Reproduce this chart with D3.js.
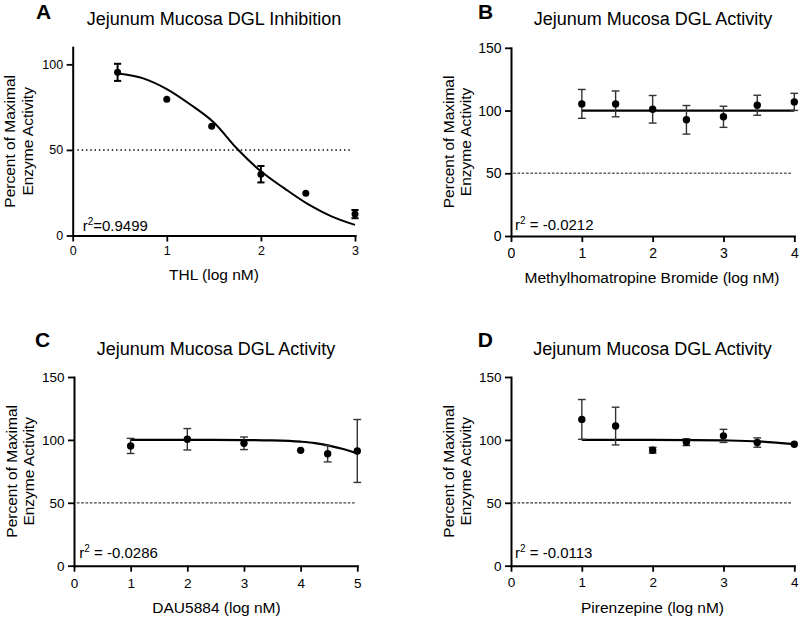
<!DOCTYPE html>
<html><head><meta charset="utf-8">
<script src="https://cdn.jsdelivr.net/npm/d3@7"></script>
<style>body{margin:0;background:#fff} text{font-family:"Liberation Sans",Arial,Helvetica,sans-serif;fill:#000}</style>
</head><body>
<svg id="c" width="800" height="618"></svg>
<script>
// ---- Data ----
const yLabelLines = ["Percent of Maximal", "Enzyme Activity"];
const titles = ["Jejunum Mucosa DGL Inhibition", "Jejunum Mucosa DGL Activity", "Jejunum Mucosa DGL Activity", "Jejunum Mucosa DGL Activity"];
const panelLetters = ["A", "B", "C", "D"];
const xLabels = ["THL (log nM)", "Methylhomatropine Bromide (log nM)", "DAU5884 (log nM)", "Pirenzepine (log nM)"];
const r2Values = ["=0.9499", " = -0.0212", " = -0.0286", " = -0.0113"];
const yTicksA = [0, 50, 100];
const yTicksBCD = [0, 50, 100, 150];
const refValue = 50;

// Panel A: THL
const aX = [0.477, 1, 1.477, 2, 2.477, 3];
const aY = [95.3, 79.6, 63.8, 35.8, 24.7, 12.5];
const aErr = [5, 0, 0, 4.8, 0, 2.4];
const aFitX = [0.477, 0.75, 1, 1.25, 1.5, 1.75, 2, 2.25, 2.5, 2.75, 3];
const aFitY = [94.7, 91.8, 85.5, 76.5, 66, 50.5, 37.5, 27.5, 18.3, 11.2, 6.2];

// Panel B: Methylhomatropine Bromide
const bX = [1, 1.477, 2, 2.477, 3, 3.477, 4];
const bY = [105.3, 105.3, 101, 92.6, 95, 104.2, 106.9];
const bErr = [11.5, 10.3, 11, 11.4, 8.4, 8, 6.8];
const bFitX = [1, 4];
const bFitY = [100, 100];

// Panel C: DAU5884
const cX = [1, 2, 3, 4, 4.477, 5];
const cY = [95.2, 100.5, 97.3, 91.7, 89, 91.2];
const cErr = [6, 8.5, 5, 0, 6.5, 25];
const cFitX = [1, 2, 3, 3.5, 4, 4.25, 4.5, 4.75, 5];
const cFitY = [100, 100, 99.9, 99.6, 98.6, 97.5, 95.5, 92.8, 89.3];

// Panel D: Pirenzepine
const dX = [1, 1.477, 2, 2.477, 3, 3.477, 4];
const dY = [116.3, 111, 91.8, 98.2, 103.2, 97.9, 96.6];
const dErr = [15.8, 15, 2.3, 2.7, 5.2, 3.7, 0];
const dFitX = [1, 2, 2.5, 3, 3.5, 4];
const dFitY = [100, 100, 99.9, 99.6, 98.8, 96.6];

// ---- Layout ----
const panels = [
  {xs:aX, ys:aY, errs:aErr, fx:aFitX, fy:aFitY, xMax:3, yMax:110, yTicks:yTicksA,
   x0:72.7, x1:355, yb:235.5, yt:47.2, tickFont:12.5, xPad:4.5,
   refFrom:0.05, refTo:2.96, refDash:"1.4,2.9", refColor:"#000", refW:1.5,
   errW:2, errColor:"#000", capW:3.6, dotR:3.5, fitW:2,
   titleX:214, titleY:25, letterX:36, letterY:18.5, xLabX:214, xLabY:279.5, labLine1:15.2, r2x:82.7, r2y:231},
  {xs:bX, ys:bY, errs:bErr, fx:bFitX, fy:bFitY, xMax:4, yMax:150, yTicks:yTicksBCD,
   x0:511, x1:794.3, yb:236, yt:47.8, tickFont:14, xPad:6.5,
   refFrom:0.03, refTo:3.96, refDash:"2.7,1.6", refColor:"#666", refW:1.3,
   errW:1.4, errColor:"#333", capW:3.9, dotR:3.7, fitW:2.2,
   titleX:653, titleY:25, letterX:478, letterY:18.5, xLabX:652, xLabY:282.5, labLine1:453.5, r2x:515, r2y:229.5},
  {xs:cX, ys:cY, errs:cErr, fx:cFitX, fy:cFitY, xMax:5, yMax:150, yTicks:yTicksBCD,
   x0:74, x1:357.3, yb:565.7, yt:377, tickFont:13.5, xPad:6.5,
   refFrom:0.05, refTo:4.98, refDash:"2.7,1.6", refColor:"#444", refW:1.2,
   errW:1.4, errColor:"#333", capW:3.9, dotR:3.7, fitW:2.2,
   titleX:216, titleY:355, letterX:35, letterY:347, xLabX:216.5, xLabY:613.3, labLine1:16.5, r2x:79.3, r2y:557.7},
  {xs:dX, ys:dY, errs:dErr, fx:dFitX, fy:dFitY, xMax:4, yMax:150, yTicks:yTicksBCD,
   x0:511, x1:794.3, yb:565.7, yt:377, tickFont:13.5, xPad:5.5,
   refFrom:0.03, refTo:3.96, refDash:"2.7,1.6", refColor:"#333", refW:1.2,
   errW:1.4, errColor:"#333", capW:3.9, dotR:3.7, fitW:2.2,
   titleX:652.5, titleY:355, letterX:477.7, letterY:347, xLabX:652.5, xLabY:613.3, labLine1:453.5, r2x:515, r2y:558.3}
];

const svg = d3.select("#c");
svg.append("rect").attr("width", 800).attr("height", 618).attr("fill", "#fff");

panels.forEach((p, i) => {
  const g = svg.append("g");
  const x = d3.scaleLinear().domain([0, p.xMax]).range([p.x0, p.x1]);
  const y = d3.scaleLinear().domain([0, p.yMax]).range([p.yb, p.yt]);

  // 50% reference line
  g.append("line")
    .attr("x1", x(p.refFrom)).attr("x2", x(p.refTo))
    .attr("y1", y(refValue)).attr("y2", y(refValue))
    .attr("stroke", p.refColor).attr("stroke-width", p.refW)
    .attr("stroke-dasharray", p.refDash);

  // fitted curve
  g.append("path")
    .datum(d3.zip(p.fx, p.fy))
    .attr("fill", "none").attr("stroke", "#000").attr("stroke-width", p.fitW)
    .attr("d", d3.line().x(d => x(d[0])).y(d => y(d[1])).curve(d3.curveMonotoneX));

  // error bars
  const pts = d3.zip(p.xs, p.ys, p.errs);
  const eb = g.append("g").attr("stroke", p.errColor).attr("stroke-width", p.errW).attr("fill", "none");
  pts.filter(d => d[2] > 0).forEach(d => {
    const cx = x(d[0]), yt = y(d[1] + d[2]), ybm = y(d[1] - d[2]);
    eb.append("line").attr("x1", cx).attr("x2", cx).attr("y1", yt).attr("y2", ybm);
    eb.append("line").attr("x1", cx - p.capW).attr("x2", cx + p.capW).attr("y1", yt).attr("y2", yt);
    eb.append("line").attr("x1", cx - p.capW).attr("x2", cx + p.capW).attr("y1", ybm).attr("y2", ybm);
  });

  // points
  g.append("g").selectAll("circle").data(pts).join("circle")
    .attr("cx", d => x(d[0])).attr("cy", d => y(d[1])).attr("r", p.dotR).attr("fill", "#000");

  // axes
  const xAxis = d3.axisBottom(x).tickValues(d3.range(0, p.xMax + 1)).tickFormat(d3.format("d"))
    .tickSize(6).tickSizeOuter(0).tickPadding(p.xPad);
  const yAxis = d3.axisLeft(y).tickValues(p.yTicks).tickFormat(d3.format("d"))
    .tickSize(6).tickSizeOuter(0).tickPadding(3.5);
  const gx = g.append("g").attr("transform", `translate(0,${p.yb})`).call(xAxis);
  const gy = g.append("g").attr("transform", `translate(${p.x0},0)`).call(yAxis);
  [gx, gy].forEach(a => {
    a.select(".domain").attr("stroke", "#000").attr("stroke-width", 2).attr("stroke-linecap", "square");
    a.selectAll(".tick line").attr("stroke", "#000").attr("stroke-width", 1.8);
    a.selectAll(".tick text").attr("font-size", p.tickFont).attr("fill", "#000")
      .attr("font-family", '"Liberation Sans", Arial, sans-serif');
  });

  // titles and labels
  g.append("text").attr("x", p.titleX).attr("y", p.titleY).attr("text-anchor", "middle")
    .attr("font-size", 18).text(titles[i]);
  g.append("text").attr("x", p.letterX).attr("y", p.letterY).attr("font-size", 21)
    .attr("font-weight", "bold").text(panelLetters[i]);
  g.append("text").attr("x", p.xLabX).attr("y", p.xLabY).attr("text-anchor", "middle")
    .attr("font-size", 15.5).text(xLabels[i]);
  const cy = (p.yb + p.yt) / 2;
  yLabelLines.forEach((t, k) => {
    g.append("text").attr("transform", `translate(${p.labLine1 + k * 17.5},${cy}) rotate(-90)`)
      .attr("text-anchor", "middle").attr("font-size", 15.5).text(t);
  });

  // r^2 annotation
  const r2 = g.append("text").attr("x", p.r2x).attr("y", p.r2y).attr("font-size", 15);
  r2.append("tspan").text("r");
  r2.append("tspan").attr("font-size", 10).attr("dy", -6).text("2");
  r2.append("tspan").attr("dy", 6).text(r2Values[i]);
});
</script>
</body></html>
